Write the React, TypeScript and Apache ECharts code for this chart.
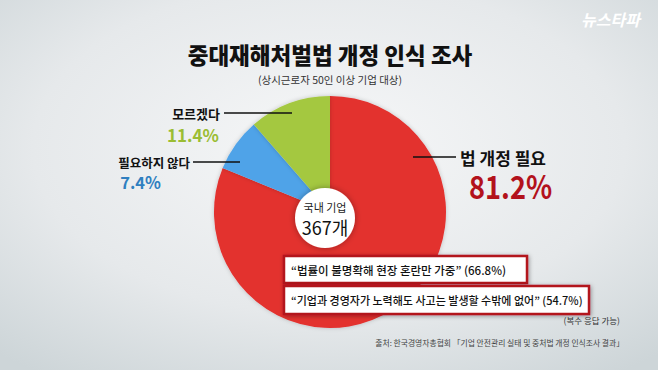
import React, { useEffect, useRef } from "react";
import * as echarts from "echarts";

const title = "중대재해처벌법 개정 인식 조사";
const subtitle = "(상시근로자 50인 이상 기업 대상)";
const categories = ["법 개정 필요", "필요하지 않다", "모르겠다"];
const values = [81.2, 7.4, 11.4];
const sliceColors = ["#e3302f", "#4fa3e8", "#a4c83f"];
const labelColors = ["#b3121c", "#2f7fc0", "#9bbd33"];
const centerLines = ["국내 기업", "367개"];
const reasons = [
  "“법률이 불명확해 현장 혼란만 가중”",
  "“기업과 경영자가 노력해도 사고는 발생할 수밖에 없어”",
];
const reasonValues = [66.8, 54.7];
const note = "(복수 응답 가능)";
const source = "출처: 한국경영자총협회 「기업 안전관리 실태 및 중처법 개정 인식조사 결과」";
const watermark = "뉴스타파";

const FONT = "'Noto Sans CJK KR', 'Noto Sans', sans-serif";

export default function App() {
  const ref = useRef<HTMLDivElement>(null);
  useEffect(() => {
    if (!ref.current) return;
    document.body.style.margin = "0";
    const chart = echarts.init(ref.current, null, { renderer: "svg" });
    const txt = (x: number, y: number, text: string, size: number, color: string, extra: any = {}) => ({
      type: "text",
      x,
      y,
      z: 100,
      ...extra.el,
      style: {
        text,
        fontSize: size,
        fontFamily: FONT,
        fontWeight: "bold",
        fill: color,
        textAlign: "left",
        textVerticalAlign: "middle",
        ...extra.style,
      },
    });
    const line = (x1: number, y: number, x2: number) => ({
      type: "line",
      z: 100,
      shape: { x1, y1: y, x2, y2: y },
      style: { stroke: "#111", lineWidth: 1.5 },
    });
    const box = (x: number, y: number, w: number, h: number) => ({
      type: "rect",
      z: 90,
      shape: { x, y, width: w, height: h },
      style: {
        fill: "#ffffff",
        stroke: "#b3141c",
        lineWidth: 2.5,
        shadowBlur: 4,
        shadowColor: "rgba(0,0,0,0.35)",
        shadowOffsetX: 1,
        shadowOffsetY: 1,
      },
    });
    const option: any = {
      animation: false,
      graphic: [
        {
          type: "rect",
          z: 0,
          shape: { x: 0, y: 0, width: 658, height: 370 },
          style: {
            fill: new echarts.graphic.RadialGradient(0.5, 0.4, 0.75, [
              { offset: 0, color: "#f6f7f8" },
              { offset: 0.6, color: "#e6e9eb" },
              { offset: 1, color: "#cdd5d8" },
            ]),
          },
        },
        txt(330, 54, title, 22.5, "#111", { style: { textAlign: "center", fontWeight: 900 } }),
        txt(330, 79, subtitle, 10.5, "#333", { style: { textAlign: "center", fontWeight: "normal" } }),
        txt(640, 19, watermark, 16, "#ffffff", {
          style: { textAlign: "right", fontStyle: "italic", shadowBlur: 2, shadowColor: "rgba(0,0,0,0.15)" },
        }),
        // green label
        txt(220, 113, categories[2], 13, "#111", { style: { textAlign: "right" } }),
        line(224, 113, 292),
        txt(219, 134, values[2].toFixed(1) + "%", 17, labelColors[2], { style: { textAlign: "right" } }),
        // blue label
        txt(190, 162, categories[1], 12.5, "#111", { style: { textAlign: "right" } }),
        line(193, 162, 240),
        txt(161, 182, values[1].toFixed(1) + "%", 16.5, labelColors[1], { style: { textAlign: "right" } }),
        // red label
        line(413, 157, 456),
        txt(460, 157, categories[0], 17, "#111"),
        txt(469, 186, values[0].toFixed(1) + "%", 32, labelColors[0], { el: { scaleX: 0.85, originX: 0, originY: 0 } }),
        // center
        {
          type: "circle",
          z: 95,
          shape: { cx: 325, cy: 218, r: 30 },
          style: { fill: "#ffffff", shadowBlur: 6, shadowColor: "rgba(0,0,0,0.35)" },
        },
        txt(325, 207, centerLines[0], 11, "#222", { style: { textAlign: "center", fontWeight: "normal" } }),
        txt(325, 227, centerLines[1], 18, "#111", { style: { textAlign: "center", fontWeight: "normal" } }),
        // reasons
        box(284, 256, 243, 27),
        txt(291, 270, reasons[0] + " (" + reasonValues[0].toFixed(1) + "%)", 11.5, "#111", { style: { fontWeight: 500 } }),
        box(284, 286, 305, 28),
        txt(291, 300, reasons[1] + " (" + reasonValues[1].toFixed(1) + "%)", 11, "#111", { style: { fontWeight: 500 } }),
        txt(620, 320, note, 8.5, "#333", { style: { textAlign: "right", fontWeight: "normal" } }),
        txt(624, 342, source, 7.8, "#444", { style: { textAlign: "right", fontWeight: "normal" } }),
      ],
      series: [
        {
          type: "pie",
          z: 2,
          center: [330, 212],
          radius: [0, 116],
          startAngle: 90,
          clockwise: true,
          label: { show: false },
          labelLine: { show: false },
          silent: true,
          itemStyle: { borderWidth: 0, shadowBlur: 4, shadowColor: "rgba(0,0,0,0.2)" },
          data: categories.map((c, i) => ({
            name: c,
            value: values[i],
            itemStyle: { color: sliceColors[i] },
          })),
        },
      ],
    };
    chart.setOption(option);
    return () => chart.dispose();
  }, []);
  return <div ref={ref} style={{ position: "absolute", left: 0, top: 0, width: 658, height: 370 }} />;
}
